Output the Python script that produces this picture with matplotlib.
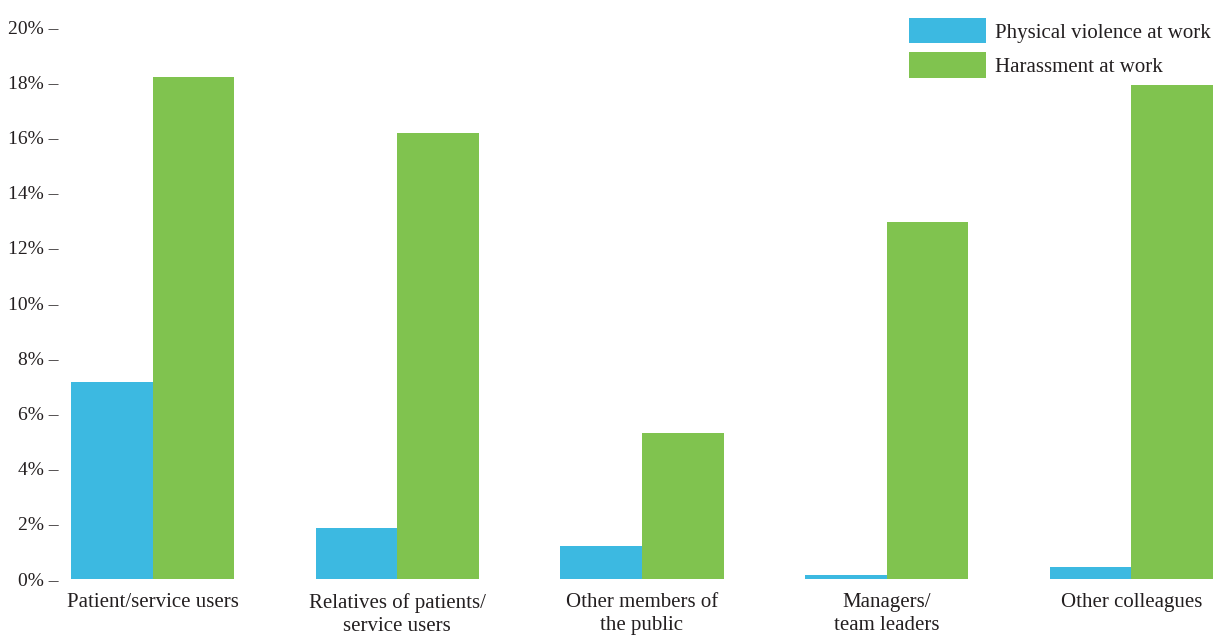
import matplotlib.pyplot as plt
import numpy as np

categories = ["Patient/service users", "Relatives of patients/\nservice users",
              "Other members of\nthe public", "Managers/\nteam leaders", "Other colleagues"]
violence = [7.15, 1.85, 1.2, 0.15, 0.45]
harassment = [18.2, 16.15, 5.3, 12.95, 17.9]
series_names = ["Physical violence at work", "Harassment at work"]
yticks = [0, 2, 4, 6, 8, 10, 12, 14, 16, 18, 20]

blue = "#3cb9e1"
green = "#80c34f"
text_col = "#231f20"

plt.rcParams["font.family"] = ["Liberation Serif", "DejaVu Serif"]

fig = plt.figure(figsize=(12.13, 6.35), dpi=100)
ax = fig.add_axes([71 / 1213, 1 - 579 / 635, 1 - 71 / 1213, (579 - 27) / 635])

x = np.arange(len(categories))
w = 1 / 3
ax.bar(x - w / 2, violence, w, color=blue, label=series_names[0])
ax.bar(x + w / 2, harassment, w, color=green, label=series_names[1])

ax.set_xlim(-w, len(categories) - 1 + w)
ax.set_ylim(0, 20)
ax.set_yticks(yticks)
ax.set_yticklabels([f"{t}% –" for t in yticks])
ax.set_xticks(x)
ax.set_xticklabels(categories, linespacing=1.3)
ax.tick_params(axis="both", length=0, colors=text_col)
ax.tick_params(axis="y", pad=9, labelsize=14)
ax.tick_params(axis="x", pad=10, labelsize=15)
for s in ax.spines.values():
    s.set_visible(False)

ax.legend(loc="upper left", bbox_to_anchor=(909 / 1213, 1 - 18 / 635),
          bbox_transform=fig.transFigure, frameon=False, borderpad=0,
          borderaxespad=0, handlelength=3.7, handleheight=1.5,
          labelspacing=0.42, handletextpad=0.43, fontsize=15,
          labelcolor=text_col)

fig.savefig("out.png", dpi=100)
